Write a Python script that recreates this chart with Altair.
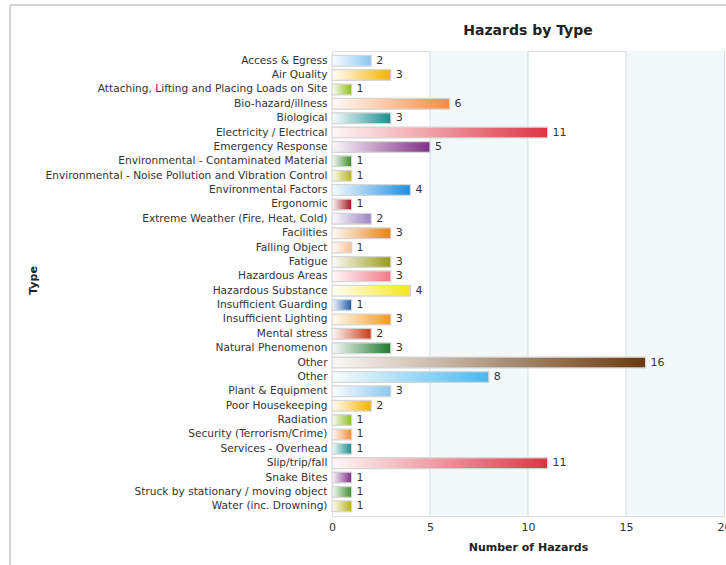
import json
import altair as alt
import pandas as pd

types = [
    "Access & Egress", "Air Quality", "Attaching, Lifting and Placing Loads on Site",
    "Bio-hazard/illness", "Biological", "Electricity / Electrical", "Emergency Response",
    "Environmental - Contaminated Material",
    "Environmental - Noise Pollution and Vibration Control", "Environmental Factors",
    "Ergonomic", "Extreme Weather (Fire, Heat, Cold)", "Facilities", "Falling Object",
    "Fatigue", "Hazardous Areas", "Hazardous Substance", "Insufficient Guarding",
    "Insufficient Lighting", "Mental stress", "Natural Phenomenon", "Other", "Other",
    "Plant & Equipment", "Poor Housekeeping", "Radiation", "Security (Terrorism/Crime)",
    "Services - Overhead", "Slip/trip/fall", "Snake Bites",
    "Struck by stationary / moving object", "Water (inc. Drowning)",
]
counts = [2, 3, 1, 6, 3, 11, 5, 1, 1, 4, 1, 2, 3, 1, 3, 3, 4, 1, 3, 2, 3, 16, 8,
          3, 2, 1, 1, 1, 11, 1, 1, 1]

chart_title = ["Hazards by Type"]
x_ticks = [0, 5, 10, 15, 20]
band_from = [5, 15]
band_to = [10, 20]
grid_at = [5, 10, 15]

palette = [
    "#8cc8f0", "#f5b400", "#8cbf1a", "#ff8a3d", "#17908f", "#dc3545", "#7e2f86",
    "#3f8a2e", "#b8b414", "#1e8ee0", "#a3141f", "#9b85c4", "#e5821a", "#ffbf96",
    "#9a9a1a", "#f07a8a", "#f5e61a", "#1f5da8", "#f59a1a", "#cc3a1a", "#1e7a2e",
    "#6a3a0e", "#4ab8f0",
]

FONT = "DejaVu Sans"
LBL = 10.6
keys = list(range(len(types)))
df = pd.DataFrame({"key": keys, "type": types, "count": counts})
bands = pd.DataFrame({"a": band_from, "b": band_to})
grid = pd.DataFrame({"g": grid_at})
tdf = pd.DataFrame({"t": chart_title})

xscale = alt.Scale(domain=[0, 20], nice=False, zero=True)
yscale = alt.Scale(paddingInner=0.25, paddingOuter=0.3)
label_expr = json.dumps(types) + "[datum.value]"

x_enc = alt.X(
    "count:Q", scale=xscale,
    axis=alt.Axis(values=x_ticks, grid=False, ticks=False, domain=False,
                  labelFlush=False, labelOverlap=False,
                  labelPadding=5, labelFontSize=11, labelColor="#333",
                  labelFont=FONT, title="Number of Hazards", titleFont=FONT,
                  titleFontSize=11, titleFontWeight="bold", titleColor="#222",
                  titlePadding=9),
)
y_enc = alt.Y(
    "key:O", sort=None, scale=yscale,
    axis=alt.Axis(labelExpr=label_expr, ticks=False, domain=False, labelPadding=5,
                  labelFontSize=LBL, labelColor="#333", labelFont=FONT,
                  labelLimit=400, title="Type", titleFont=FONT, titleFontSize=11,
                  titleFontWeight="bold", titleColor="#222", titleX=-299,
                  titleY=229, titleAngle=270, titleAlign="center",
                  titleBaseline="middle"),
)

band_layer = alt.Chart(bands).mark_rect(color="#f3f8fa").encode(
    x=alt.X("a:Q", scale=xscale), x2="b:Q"
)
grid_layer = alt.Chart(grid).mark_rule(color="#cbe3e3", strokeWidth=1).encode(
    x=alt.X("g:Q", scale=xscale)
)

base = alt.Chart(df)
bar_layer = base.mark_bar().encode(
    x=x_enc, y=y_enc,
    color=alt.Color("key:O", scale=alt.Scale(domain=keys,
                    range=[palette[i % len(palette)] for i in keys]), legend=None),
)
gloss = base.mark_bar(
    fill=alt.Gradient(
        gradient="linear",
        stops=[alt.GradientStop(offset=0, color="rgba(255,255,255,0.97)"),
               alt.GradientStop(offset=1, color="rgba(255,255,255,0)")],
        x1=0, x2=1, y1=0, y2=0,
    ),
    stroke="#d6d6d6", strokeWidth=1.2,
).encode(x="count:Q", y=alt.Y("key:O", sort=None))
text_layer = base.mark_text(align="left", baseline="middle", dx=5, fontSize=11,
                            font=FONT, color="#333").encode(
    x="count:Q", y=alt.Y("key:O", sort=None), text="count:Q"
)

title_layer = alt.Chart(tdf).mark_text(
    font=FONT, fontSize=14, fontWeight="bold", color="#222",
    align="center", baseline="middle",
).encode(x=alt.value(196), y=alt.value(-20), text="t:N")

frame_top = alt.Chart(df).mark_rule(color="#d4d4d4", strokeWidth=2).encode(
    x=alt.value(-322), x2=alt.value(400), y=alt.value(-46)
)
frame_left = alt.Chart(df).mark_rule(color="#d4d4d4", strokeWidth=2).encode(
    x=alt.value(-322), y=alt.value(-46), y2=alt.value(520)
)

chart = alt.layer(
    band_layer, grid_layer, bar_layer, gloss, text_layer, title_layer,
    frame_top, frame_left
).properties(
    width=392, height=465,
    autosize=alt.AutoSizeParams(type="none"),
    padding={"left": 332, "top": 51, "right": 2, "bottom": 49},
).configure_view(
    stroke="#3b5163", strokeWidth=2
).configure(background="white")

chart.save("out.html", embed_options={"renderer": "svg", "actions": False})
